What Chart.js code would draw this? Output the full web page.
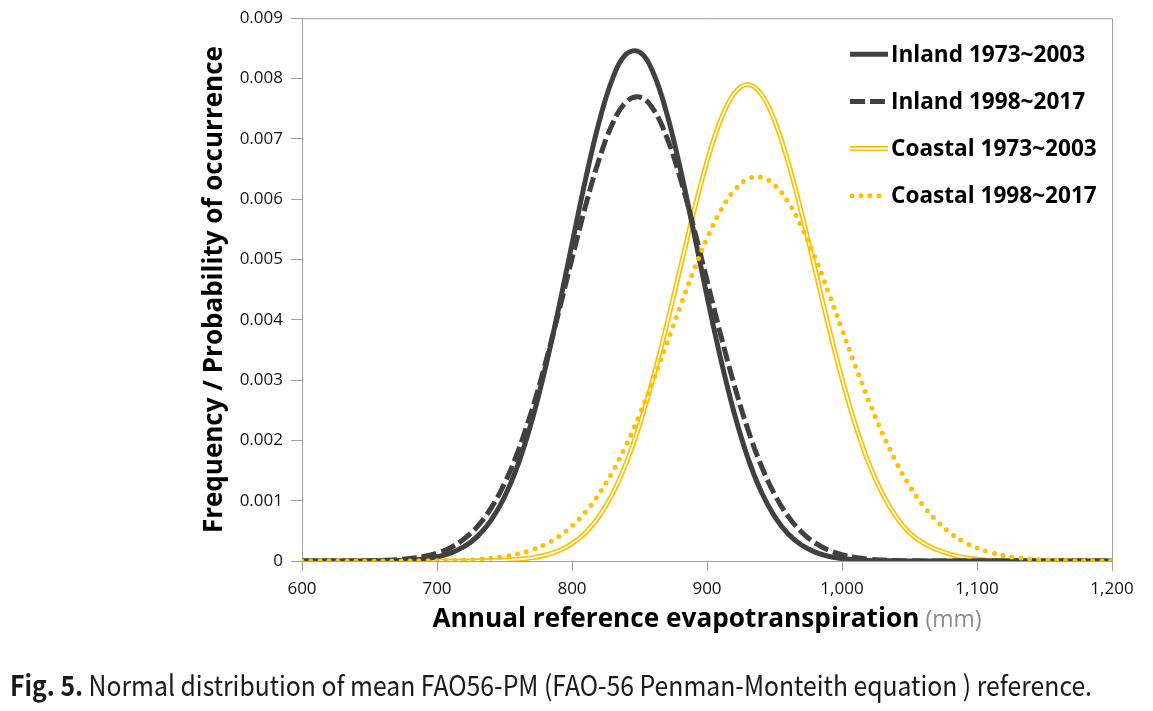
<!DOCTYPE html>
<html>
<head>
<meta charset="utf-8">
<script src="https://cdn.jsdelivr.net/npm/chart.js@4.4.1/dist/chart.umd.min.js"></script>
<style>
	html, body { margin: 0; padding: 0; background: #fff; }
	#wrap { position: relative; width: 1153px; height: 711px; }
	#caption {
		position: absolute; left: 10px; top: 664px;
		font-family: "Noto Sans CJK KR", "Noto Sans", sans-serif;
		font-size: 28px; color: #1a1a1a; white-space: nowrap;
		transform-origin: left top;
	}
</style>
</head>
<body>
<div id="wrap">
	<canvas id="chart" width="1153" height="711"></canvas>
	<div id="caption"><b>Fig. 5.</b> Normal distribution of mean FAO56-PM (FAO-56 Penman-Monteith equation ) reference.</div>
</div>
<script>
// x positions (mm), read every 10 mm
var mm = [600, 610, 620, 630, 640, 650, 660, 670, 680, 690,
	700, 710, 720, 730, 740, 750, 760, 770, 780, 790,
	800, 810, 820, 830, 840, 850, 860, 870, 880, 890,
	900, 910, 920, 930, 940, 950, 960, 970, 980, 990,
	1000, 1010, 1020, 1030, 1040, 1050, 1060, 1070, 1080, 1090,
	1100, 1110, 1120, 1130, 1140, 1150, 1160, 1170, 1180, 1190, 1200];

var inland7303 = [0, 0, 0, 0, 0, 0.000002, 0.000004, 0.000008, 0.000017, 0.000035,
	0.000069, 0.000131, 0.000237, 0.000408, 0.000673, 0.001061, 0.001599, 0.002304, 0.003173, 0.004177,
	0.005257, 0.006325, 0.007273, 0.007995, 0.008401, 0.008440, 0.008104, 0.007438, 0.006527, 0.005475,
	0.004390, 0.003365, 0.002466, 0.001727, 0.001156, 0.000740, 0.000453, 0.000265, 0.000148, 0.000079,
	0.000040, 0.000020, 0.000009, 0.000004, 0.000002, 0, 0, 0, 0, 0,
	0, 0, 0, 0, 0, 0, 0, 0, 0, 0, 0];

var inland9817 = [0, 0, 0, 0.000001, 0.000002, 0.000005, 0.000011, 0.000021, 0.000040, 0.000074,
	0.000130, 0.000221, 0.000364, 0.000575, 0.000876, 0.001286, 0.001819, 0.002478, 0.003253, 0.004114,
	0.005013, 0.005884, 0.006654, 0.007249, 0.007609, 0.007694, 0.007496, 0.007036, 0.006363, 0.005543,
	0.004652, 0.003762, 0.002931, 0.002200, 0.001591, 0.001108, 0.000744, 0.000481, 0.000300, 0.000180,
	0.000104, 0.000058, 0.000031, 0.000016, 0.000008, 0.000004, 0.000002, 0.000001, 0, 0,
	0, 0, 0, 0, 0, 0, 0, 0, 0, 0, 0];

var coastal7303 = [0, 0, 0, 0, 0, 0, 0, 0, 0, 0,
	0, 0, 0, 0.000003, 0.000007, 0.000014, 0.000027, 0.000052, 0.000096, 0.000169,
	0.000287, 0.000469, 0.000737, 0.001112, 0.001614, 0.002252, 0.003023, 0.003900, 0.004839, 0.005773,
	0.006622, 0.007304, 0.007747, 0.007900, 0.007747, 0.007304, 0.006622, 0.005773, 0.004839, 0.003900,
	0.003023, 0.002252, 0.001614, 0.001112, 0.000737, 0.000469, 0.000300, 0.000190, 0.000115, 0.000060,
	0.000030, 0.000014, 0.000007, 0.000003, 0, 0, 0, 0, 0, 0, 0];

var coastal9817 = [0, 0, 0, 0, 0, 0, 0, 0, 0.000001, 0.000003,
	0.000005, 0.000009, 0.000016, 0.000027, 0.000045, 0.000074, 0.000117, 0.000181, 0.000274, 0.000404,
	0.000581, 0.000814, 0.001111, 0.001478, 0.001918, 0.002425, 0.002990, 0.003593, 0.004209, 0.004806,
	0.005349, 0.005804, 0.006139, 0.006330, 0.006363, 0.006234, 0.005954, 0.005544, 0.005032, 0.004451,
	0.003839, 0.003227, 0.002645, 0.002113, 0.001645, 0.001249, 0.000924, 0.000667, 0.000469, 0.000321,
	0.000215, 0.000140, 0.000089, 0.000055, 0.000033, 0.000020, 0.000011, 0.000006, 0.000003, 0.000002, 0.000001];

var seriesNames = ['Inland 1973~2003', 'Inland 1998~2017', 'Coastal 1973~2003', 'Coastal 1998~2017'];
var xTicks = [600, 700, 800, 900, 1000, 1100, 1200];
var yTicks = [0, 0.001, 0.002, 0.003, 0.004, 0.005, 0.006, 0.007, 0.008, 0.009];

var dark = '#404040';
var gold = '#FFC000';
var axisGrey = '#a0a0a0';
var font = '"Open Sans", "Noto Sans", sans-serif';

function pts(values) {
	return mm.map(function(x, i) { return { x: x, y: values[i] }; });
}

// top + right edge of the plot box
var plotFrame = {
	id: 'plotFrame',
	beforeDatasetsDraw: function(chart) {
		var ctx = chart.ctx, a = chart.chartArea;
		ctx.save();
		ctx.strokeStyle = axisGrey;
		ctx.lineWidth = 1;
		ctx.beginPath();
		ctx.moveTo(a.left, a.top + 0.5);
		ctx.lineTo(a.right + 0.5, a.top + 0.5);
		ctx.lineTo(a.right + 0.5, a.bottom);
		ctx.stroke();
		ctx.restore();
	}
};

// legend sitting inside the plot, top right
var insideLegend = {
	id: 'insideLegend',
	afterDatasetsDraw: function(chart) {
		var ctx = chart.ctx, a = chart.chartArea;
		var sets = chart.data.datasets;
		var x0 = a.right - 262, x1 = a.right - 224, tx = a.right - 221;
		var row = 0;
		ctx.save();
		sets.forEach(function(ds, i) {
			if (ds.overlay) return;
			var y = a.top + 36 + row * 47.2;
			var list = [ds];
			if (sets[i + 1] && sets[i + 1].overlay) list.push(sets[i + 1]);
			list.forEach(function(s) {
				ctx.beginPath();
				ctx.strokeStyle = s.borderColor;
				ctx.lineWidth = s.borderWidth;
				ctx.lineCap = s.borderCapStyle || 'butt';
				ctx.setLineDash(s.borderDash || []);
				var start = s.borderCapStyle === 'round' ? x0 + 2 : x0;
				ctx.moveTo(start, y);
				ctx.lineTo(x1, y);
				ctx.stroke();
			});
			ctx.setLineDash([]);
			ctx.fillStyle = '#000';
			ctx.font = 'bold 22.6px ' + font;
			ctx.textBaseline = 'alphabetic';
			ctx.fillText(ds.label, tx, y + 7.5);
			row++;
		});
		ctx.restore();
	}
};

// x title in two styles
var xTitle = {
	id: 'xTitle',
	afterDraw: function(chart) {
		var ctx = chart.ctx, a = chart.chartArea;
		var main = 'Annual reference evapotranspiration', unit = ' (mm)';
		ctx.save();
		ctx.font = 'bold 26.2px ' + font;
		var w1 = ctx.measureText(main).width;
		ctx.font = '23px ' + font;
		var w2 = ctx.measureText(unit).width;
		var x = (a.left + a.right) / 2 - (w1 + w2) / 2;
		var y = a.bottom + 66;
		ctx.textBaseline = 'alphabetic';
		ctx.textAlign = 'left';
		ctx.font = 'bold 26.2px ' + font;
		ctx.fillStyle = '#000';
		ctx.fillText(main, x, y);
		ctx.font = '23px ' + font;
		ctx.fillStyle = '#8c8c8c';
		ctx.fillText(unit, x + w1, y);
		ctx.restore();
	}
};

var ctx = document.getElementById('chart').getContext('2d');

var chart = new Chart(ctx, {
	type: 'line',
	data: {
		datasets: [
			{
				label: seriesNames[0],
				data: pts(inland7303),
				borderColor: dark,
				borderWidth: 5,
				order: 3
			},
			{
				label: seriesNames[1],
				data: pts(inland9817),
				borderColor: dark,
				borderWidth: 5,
				borderDash: [15, 5],
				order: 2
			},
			{
				label: seriesNames[2],
				data: pts(coastal7303),
				borderColor: gold,
				borderWidth: 5,
				order: 5
			},
			{
				label: '',
				overlay: true,
				data: pts(coastal7303),
				borderColor: '#ffffff',
				borderWidth: 1.6,
				order: 4
			},
			{
				label: seriesNames[3],
				data: pts(coastal9817),
				borderColor: gold,
				borderWidth: 5,
				borderDash: [0, 9],
				borderCapStyle: 'round',
				order: 1
			}
		]
	},
	options: {
		responsive: false,
		animation: false,
		layout: {
			padding: { top: 17, right: 41, bottom: 0, left: 0 }
		},
		elements: {
			point: { radius: 0 },
			line: { tension: 0.4, fill: false }
		},
		scales: {
			x: {
				type: 'linear',
				min: 600,
				max: 1200,
				afterBuildTicks: function(scale) {
					scale.ticks = xTicks.map(function(v) { return { value: v }; });
				},
				afterFit: function(scale) { scale.height = 150; },
				ticks: {
					padding: 8,
					color: '#111',
					font: { family: font, size: 17 },
					callback: function(v) { return v.toLocaleString('en-US'); }
				},
				grid: {
					drawOnChartArea: false,
					color: axisGrey,
					tickLength: 10
				},
				border: { color: axisGrey }
			},
			y: {
				min: 0,
				max: 0.009,
				afterBuildTicks: function(scale) {
					scale.ticks = yTicks.map(function(v) { return { value: v }; });
				},
				afterFit: function(scale) { scale.width = 302; },
				ticks: {
					padding: 8,
					color: '#111',
					font: { family: font, size: 17 },
					callback: function(v) { return v === 0 ? '0' : v.toFixed(3); }
				},
				grid: {
					drawOnChartArea: false,
					color: axisGrey,
					tickLength: 11
				},
				border: { color: axisGrey },
				title: {
					display: true,
					text: 'Frequency / Probability of occurrence',
					color: '#000',
					font: { family: font, size: 26, weight: 'bold' },
					padding: { top: 199, bottom: 0 }
				}
			}
		},
		plugins: {
			legend: { display: false },
			tooltip: { enabled: false }
		}
	},
	plugins: [plotFrame, insideLegend, xTitle]
});

// squeeze the caption to the width it has in the figure
var cap = document.getElementById('caption');
cap.style.transform = 'scaleX(' + (1082 / cap.getBoundingClientRect().width) + ')';
</script>
</body>
</html>
